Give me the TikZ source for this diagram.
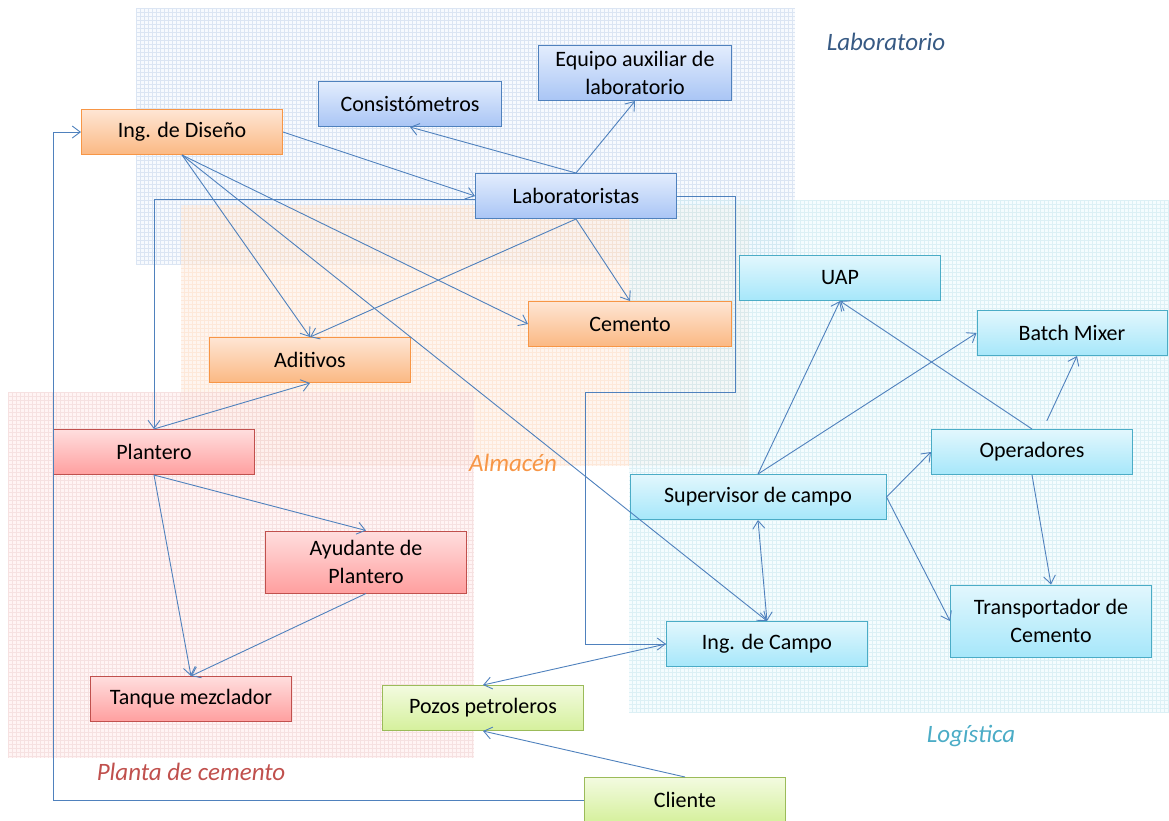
\documentclass[tikz,border=0pt]{standalone}
\usepackage{fontspec}
\setmainfont{Carlito}
\usepackage{xcolor}
\usepackage{tikz}
\usetikzlibrary{arrows.meta}

\definecolor{linkblue}{HTML}{4F81BD}
\definecolor{labdraw}{HTML}{4F81BD}
\definecolor{labtop}{HTML}{E3EDFD}
\definecolor{labbot}{HTML}{A9C5F5}
\definecolor{almdraw}{HTML}{F79646}
\definecolor{almtop}{HTML}{FEE6D4}
\definecolor{almbot}{HTML}{FBB883}
\definecolor{pladraw}{HTML}{C0504D}
\definecolor{platop}{HTML}{FFDEDE}
\definecolor{plabot}{HTML}{FF9F9F}
\definecolor{logdraw}{HTML}{4BACC6}
\definecolor{logtop}{HTML}{E2F7FD}
\definecolor{logbot}{HTML}{A6E7FA}
\definecolor{cliedraw}{HTML}{9BBB59}
\definecolor{clietop}{HTML}{F3FBE0}
\definecolor{cliebot}{HTML}{D5F09C}

\begin{document}
\begin{tikzpicture}[
    x=1pt, y=-1pt,
    font=\fontsize{22}{28}\selectfont,
    >={Straight Barb[length=8pt,width=12pt]},
    box/.style={
        rectangle,
        line width=1pt,
        align=center,
        minimum width=201pt,
        minimum height=45pt,
        inner sep=2pt
    },
    labbox/.style={box, draw=labdraw, top color=labtop, bottom color=labbot},
    almbox/.style={box, draw=almdraw, top color=almtop, bottom color=almbot},
    plabox/.style={box, draw=pladraw, top color=platop, bottom color=plabot},
    logbox/.style={box, draw=logdraw, top color=logtop, bottom color=logbot},
    cliebox/.style={box, draw=cliedraw, top color=clietop, bottom color=cliebot},
    zone/.style={fill opacity=0.55, draw opacity=0.45, line width=0.3pt, xstep=4, ystep=-4},
    zonetitle/.style={font=\fontsize{25}{30}\selectfont\itshape},
    arrow/.style={->, draw=linkblue, line width=0.9pt}
]
\useasboundingbox (0,0) rectangle (1169,820);

% Zones (grid goes from lower left to upper right)
\fill[zone, fill=labtop!55] (136,8) rectangle (795,265);
\draw[zone, draw=labdraw!40] (136,265) grid (795,8);
\fill[zone, fill=almtop!70] (181,205) rectangle (749,466);
\draw[zone, draw=almdraw!35] (181,466) grid (749,205);
\fill[zone, fill=platop!60] (8,392) rectangle (474,758);
\draw[zone, draw=pladraw!30] (8,758) grid (474,392);
\fill[zone, fill=logtop!70] (629,200) rectangle (1169,713);
\draw[zone, draw=logdraw!35] (629,713) grid (1169,200);

\node[zonetitle, text=labdraw!70!black] (tlab) at (886,42) {Laboratorio};
\node[zonetitle, text=almdraw] (talm) at (513,463) {Almacén};
\node[zonetitle, text=pladraw] (tpla) at (191,772) {Planta de cemento};
\node[zonetitle, text=logdraw] (tlog) at (971,736) {Logística};

% Nodes
\node[almbox] (diseno) at (182,132) {Ing. de Diseño};
\node[labbox, minimum width=183pt] (cons) at (410,104) {Consistómetros};
\node[labbox, minimum width=193pt, minimum height=55pt] (equipo) at (635,73) {Equipo auxiliar de\\laboratorio};
\node[labbox] (lab) at (576,196) {Laboratoristas};
\node[logbox] (uap) at (840,278) {UAP};
\node[almbox, minimum width=203pt] (cemento) at (630,324) {Cemento};
\node[almbox] (aditivos) at (310,360) {Aditivos};
\node[logbox, minimum width=190pt] (batch) at (1072,333) {Batch Mixer};
\node[plabox] (plantero) at (154,452) {Plantero};
\node[logbox] (oper) at (1032,452) {Operadores};
\node[logbox, minimum width=256pt] (super) at (758,497) {Supervisor de campo};
\node[plabox, minimum height=62pt] (ayudante) at (366,562) {Ayudante de\\Plantero};
\node[logbox, minimum height=72pt] (transp) at (1051,621) {Transportador de\\Cemento};
\node[logbox] (campo) at (767,644) {Ing. de Campo};
\node[plabox] (tanque) at (191,699) {Tanque mezclador};
\node[cliebox] (pozos) at (483,708) {Pozos petroleros};
\node[cliebox] (cliente) at (685,800) {Cliente};

% Arrows
\draw[arrow] (diseno.east) -- (lab.west);
\draw[arrow] (diseno.south) -- (aditivos.north);
\draw[arrow] (diseno.south) -- (cemento.west);
\draw[arrow] (diseno.south) -- (campo.north);

\draw[arrow] (lab.north) -- (cons.south);
\draw[arrow] (lab.north) -- (equipo.south);
\draw[arrow] (lab.south) -- (cemento.north);
\draw[arrow] (lab.south) -- (aditivos.north);
\draw[arrow] ([yshift=-3pt]lab.west) -| (plantero.north);
\draw[arrow] (lab.east) -| (735,392) -| (585,644) -- (campo.west);

\draw[arrow] (plantero.north) -- (aditivos.south);
\draw[arrow] (plantero.south) -- (ayudante.north);
\draw[arrow] (plantero.south) -- (tanque.north);
\draw[arrow] (ayudante.south) -- (tanque.north);

\draw[arrow] (super.north) -- (uap.south);
\draw[arrow] (super.north) -- (batch.west);
\draw[arrow] (super.east) -- (oper.west);
\draw[arrow] (super.east) -- (transp.west);
\draw[arrow] (oper.north) -- (uap.south);
\draw[arrow, shorten <=9pt] ([xshift=11pt]oper.north) -- ([xshift=5pt]batch.south);
\draw[arrow] (oper.south) -- (transp.north);
\draw[arrow, <->] (campo.north) -- (super.south);

\draw[arrow] (campo.west) -- (pozos.north);
\draw[arrow] (cliente.north) -- (pozos.south);
\draw[arrow] (cliente.west) -| (53,132) -- (diseno.west);

\end{tikzpicture}
\end{document}
